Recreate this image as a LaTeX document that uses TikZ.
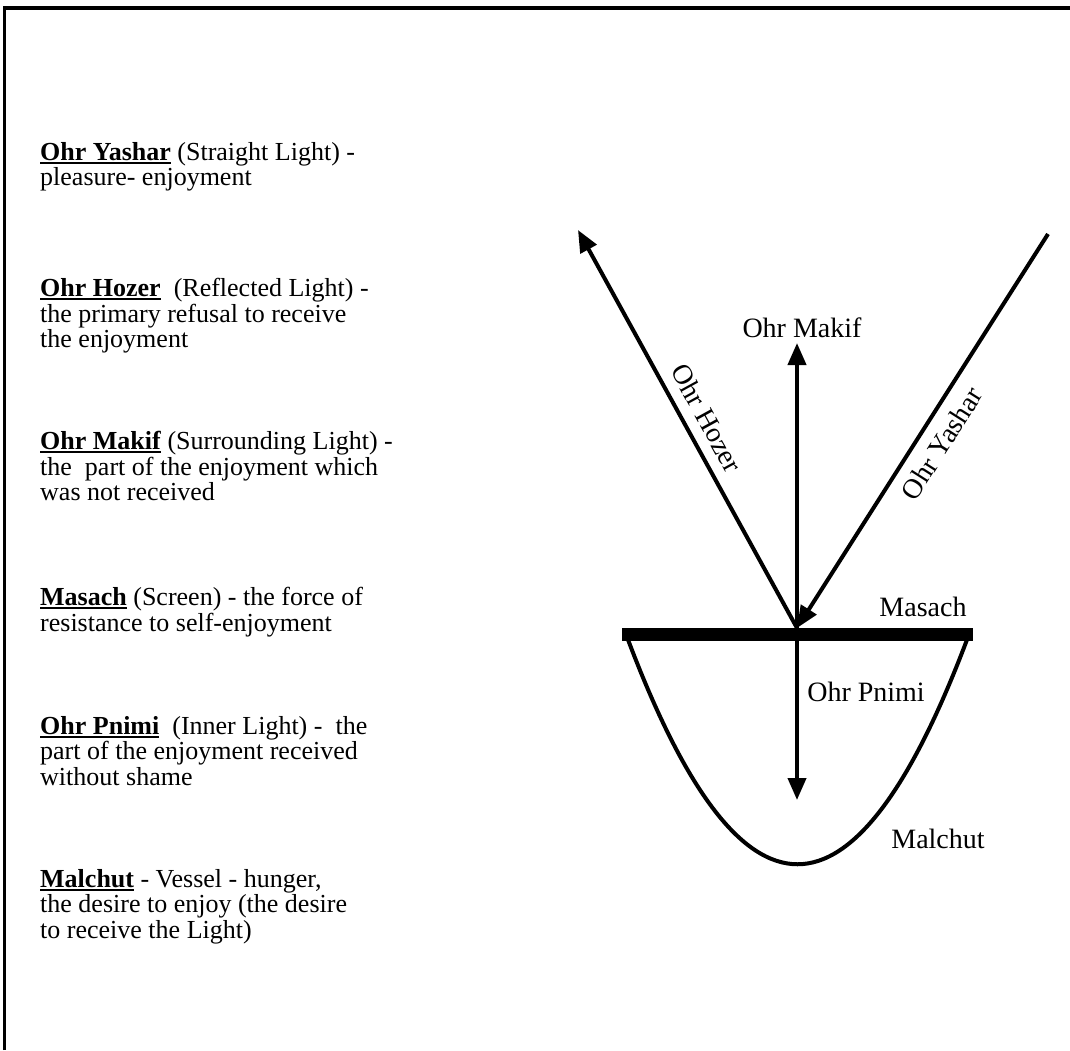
\documentclass[tikz,border=0pt]{standalone}
\usepackage{fontspec}
\setmainfont{Liberation Serif}
\usetikzlibrary{arrows.meta}
\newcommand\ulterm[1]{\setbox0\hbox{\textbf{#1}}\rlap{\rule[-3.5pt]{\wd0}{1.6pt}}\box0\relax}
\begin{document}
\begin{tikzpicture}[x=1pt,y=-1pt,
  legend/.style={anchor=north west, align=left, inner sep=0pt,
    font=\fontsize{26}{25.5}\selectfont},
  lbl/.style={font=\fontsize{28}{28}\selectfont, inner sep=0pt},
  tiptri/.tip={Triangle[length=22pt,width=18pt]},
  ray/.style={line width=4pt},
  frame/.style={line width=3.5pt},
  screen/.style={line width=13pt},
  vessel/.style={line width=4pt}]
\useasboundingbox (0,0) rectangle (1070,1050);
% frame
\draw[frame] (4.5,1050) -- (4.5,8) -- (1070,8);

% legend
\node[legend] (l1) at (40,142) {\ulterm{Ohr Yashar} (Straight Light) -\\pleasure- enjoyment};
\node[legend] (l2) at (40,278) {\ulterm{Ohr Hozer}\ \ (Reflected Light) -\\the primary refusal to receive\\the enjoyment};
\node[legend] (l3) at (40,431) {\ulterm{Ohr Makif} (Surrounding Light) -\\the\ \ part of the enjoyment which\\was not received};
\node[legend] (l4) at (40,587) {\ulterm{Masach} (Screen) - the force of\\resistance to self-enjoyment};
\node[legend] (l5) at (40,716) {\ulterm{Ohr Pnimi}\ \ (Inner Light) -\ \ the\\part of the enjoyment received\\without shame};
\node[legend] (l6) at (40,869) {\ulterm{Malchut} - Vessel - hunger,\\the desire to enjoy (the desire\\to receive the Light)};

% geometry
\coordinate (R) at (797,628);
\coordinate (hoztip) at (578,230);
\coordinate (yashstart) at (1048,234);
\coordinate (maktip) at (797,343);
\coordinate (pntip) at (797,800);
\coordinate (barL) at (622,634.5);
\coordinate (barR) at (973,634.5);
\coordinate (bowlL) at (627,637);
\coordinate (bowlR) at (968,637);

% vessel (Malchut)
\draw[vessel] (bowlL) .. controls (740.7,940) and (854.3,940) .. (bowlR);
% screen (Masach)
\draw[screen] (barL) -- (barR);

% rays
\draw[ray, -tiptri] (R) -- node[lbl, sloped, above=10.5pt] (hozlbl) {Ohr Hozer} (hoztip);
\draw[ray, tiptri-] (R) -- node[lbl, sloped, below=11pt] (yashlbl) {Ohr Yashar} (yashstart);
\draw[ray, -tiptri] (R) -- (maktip);
\draw[ray, -tiptri] (R) -- (pntip);

% labels
\node[lbl] (makif) at (802,328) {Ohr Makif};
\node[lbl] (masach) at (923,607) {Masach};
\node[lbl] (pnimi) at (866,692) {Ohr Pnimi};
\node[lbl] (malchut) at (938,839) {Malchut};
\end{tikzpicture}
\end{document}
